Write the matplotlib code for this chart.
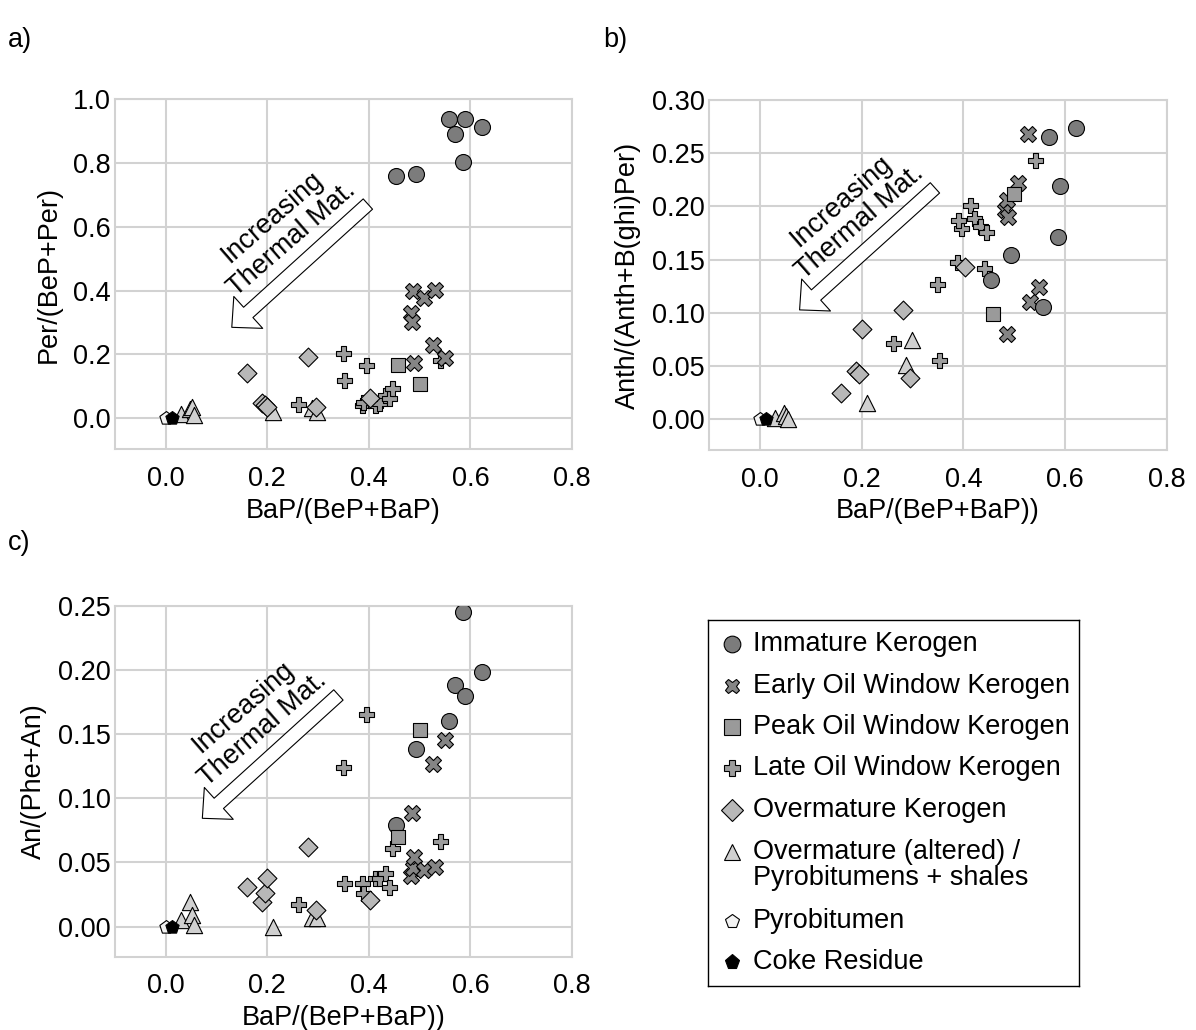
import matplotlib
matplotlib.use("Agg")
import matplotlib.pyplot as plt
from matplotlib.ticker import FormatStrFormatter

plt.rcParams["font.family"] = ["Liberation Sans", "DejaVu Sans"]
FS = 19.5

# ---- data: BaP/(BeP+BaP) on x; the three maturity ratios per group ----
immature_x = [0.454, 0.493, 0.557, 0.569, 0.585, 0.590, 0.622]
immature_per = [0.758, 0.766, 0.936, 0.891, 0.804, 0.937, 0.913]
immature_anth = [0.131, 0.154, 0.105, 0.265, 0.171, 0.219, 0.2735]
immature_an = [0.079, 0.138, 0.160, 0.188, 0.245, 0.180, 0.198]

early_x = [0.482, 0.485, 0.486, 0.488, 0.508, 0.527, 0.530, 0.549]
early_per = [0.331, 0.302, 0.400, 0.174, 0.376, 0.229, 0.402, 0.188]
early_anth = [0.197, 0.206, 0.080, 0.190, 0.222, 0.268, 0.110, 0.124]
early_an = [0.0395, 0.0888, 0.0455, 0.054, 0.044, 0.127, 0.0467, 0.1456]

peak_x = [0.458, 0.500]
peak_per = [0.167, 0.107]
peak_anth = [0.099, 0.212]
peak_an = [0.070, 0.153]

late_x = [0.261, 0.349, 0.351, 0.395, 0.387, 0.389, 0.412, 0.420, 0.432, 0.440, 0.445, 0.541]
late_per = [0.045, 0.205, 0.120, 0.167, 0.042, 0.052, 0.042, 0.049, 0.073, 0.063, 0.094, 0.182]
late_anth = [0.072, 0.127, 0.056, 0.1795, 0.148, 0.187, 0.2014, 0.189, 0.182, 0.142, 0.176, 0.244]
late_an = [0.0174, 0.124, 0.034, 0.1657, 0.034, 0.0265, 0.0377, 0.0377, 0.0416, 0.031, 0.061, 0.067]

over_x = [0.160, 0.189, 0.195, 0.200, 0.281, 0.295, 0.403]
over_per = [0.143, 0.047, 0.042, 0.036, 0.191, 0.036, 0.063]
over_anth = [0.025, 0.045, 0.042, 0.085, 0.103, 0.0385, 0.143]
over_an = [0.031, 0.0195, 0.026, 0.0377, 0.062, 0.013, 0.021]

altered_x = [0.030, 0.047, 0.051, 0.055, 0.211, 0.287, 0.298]
altered_per = [0.012, 0.030, 0.035, 0.010, 0.021, 0.031, 0.021]
altered_anth = [0.001, 0.006, 0.003, 0.000, 0.0156, 0.051, 0.0745]
altered_an = [0.005, 0.0195, 0.009, 0.0013, 0.000, 0.0065, 0.0065]

pyro_x = [0.000]
pyro_per = [0.000]
pyro_anth = [0.000]
pyro_an = [0.000]

coke_x = [0.012]
coke_per = [0.002]
coke_anth = [0.000]
coke_an = [0.000]

labels = ["Immature Kerogen", "Early Oil Window Kerogen", "Peak Oil Window Kerogen",
          "Late Oil Window Kerogen", "Overmature Kerogen",
          "Overmature (altered) /\nPyrobitumens + shales", "Pyrobitumen", "Coke Residue"]

# marker, face colour, marker size (pt)
styles = {
    "late": ("P", "#9c9c9c", 10.8),
    "early": ("X", "#858585", 11.5),
    "immature": ("o", "#7c7c7c", 11.5),
    "peak": ("s", "#9a9a9a", 9.6),
    "altered": ("^", "#d0d0d0", 11.7),
    "over": ("D", "#b8b8b8", 9.6),
    "pyro": ("p", "#f2f2f2", 10.0),
    "coke": ("p", "#000000", 10.0),
}
legend_order = ["immature", "early", "peak", "late", "over", "altered", "pyro", "coke"]
legend_size = {"immature": 12, "early": 10.5, "peak": 11.5, "late": 11.5,
               "over": 11.5, "altered": 11.5, "pyro": 10.5, "coke": 11}

W, H = 1196, 1030
fig = plt.figure(figsize=(W / 100, H / 100), dpi=100)


def px_axes(left, top, right, bottom):
    return fig.add_axes([left / W, 1 - bottom / H, (right - left) / W, (bottom - top) / H])


GRID = "#d2d2d2"


def style_axes(ax, ylim, yticks, yfmt, xlabel, ylabel, ylabelpad):
    ax.set_xlim(-0.1, 0.8)
    ax.set_ylim(*ylim)
    ax.set_xticks([0.0, 0.2, 0.4, 0.6, 0.8])
    ax.set_yticks(yticks)
    ax.xaxis.set_major_formatter(FormatStrFormatter("%.1f"))
    ax.yaxis.set_major_formatter(FormatStrFormatter(yfmt))
    ax.grid(True, color=GRID, linewidth=1.5)
    ax.set_axisbelow(True)
    for s in ax.spines.values():
        s.set_color(GRID)
        s.set_linewidth(1.5)
    ax.tick_params(length=0, labelsize=FS)
    ax.tick_params(axis="x", pad=12)
    ax.tick_params(axis="y", pad=3)
    ax.set_xlabel(xlabel, fontsize=FS, labelpad=4)
    ax.set_ylabel(ylabel, fontsize=FS, labelpad=ylabelpad)


def draw_points(ax, series):
    for key in ["late", "early", "immature", "peak", "altered", "over", "pyro", "coke"]:
        xs, ys = series[key]
        m, c, ms = styles[key]
        ax.scatter(xs, ys, marker=m, s=ms ** 2, facecolor=c, edgecolor="black",
                   linewidth=0.8, zorder=3)


def draw_arrow(ax, tail, tip, text_xy):
    ax.annotate("", xy=tip, xytext=tail,
                arrowprops=dict(arrowstyle="simple,head_length=1.6,head_width=3.1,tail_width=1.0",
                                mutation_scale=10, fc="white", ec="black", lw=0.8,
                                shrinkA=0, shrinkB=0), zorder=4)
    ax.text(text_xy[0], text_xy[1], "Increasing\nThermal Mat.", rotation=41,
            rotation_mode="anchor", ha="center", va="center", multialignment="center",
            fontsize=FS, linespacing=1.15, zorder=4)


# a) Per/(BeP+Per)
ax_a = px_axes(115, 99, 572, 449.3)
style_axes(ax_a, (-0.097, 1.0), [0.0, 0.2, 0.4, 0.6, 0.8, 1.0], "%.1f",
           "BaP/(BeP+BaP)", "Per/(BeP+Per)", 8)
draw_points(ax_a, {
    "immature": (immature_x, immature_per), "early": (early_x, early_per),
    "peak": (peak_x, peak_per), "late": (late_x, late_per), "over": (over_x, over_per),
    "altered": (altered_x, altered_per), "pyro": (pyro_x, pyro_per), "coke": (coke_x, coke_per)})
draw_arrow(ax_a, (0.398, 0.671), (0.130, 0.285), (0.229, 0.596))

# b) Anth/(Anth+B(ghi)Per)
ax_b = px_axes(709, 100, 1167, 450)
style_axes(ax_b, (-0.029, 0.30), [0.0, 0.05, 0.10, 0.15, 0.20, 0.25, 0.30], "%.2f",
           "BaP/(BeP+BaP))", "Anth/(Anth+B(ghi)Per)", 8)
draw_points(ax_b, {
    "immature": (immature_x, immature_anth), "early": (early_x, early_anth),
    "peak": (peak_x, peak_anth), "late": (late_x, late_anth), "over": (over_x, over_anth),
    "altered": (altered_x, altered_anth), "pyro": (pyro_x, pyro_anth), "coke": (coke_x, coke_anth)})
draw_arrow(ax_b, (0.344, 0.2174), (0.078, 0.1027), (0.178, 0.195))

# c) An/(Phe+An)
ax_c = px_axes(115, 605.7, 572, 956.7)
style_axes(ax_c, (-0.0234, 0.25), [0.0, 0.05, 0.10, 0.15, 0.20, 0.25], "%.2f",
           "BaP/(BeP+BaP))", "An/(Phe+An)", 8)
draw_points(ax_c, {
    "immature": (immature_x, immature_an), "early": (early_x, early_an),
    "peak": (peak_x, peak_an), "late": (late_x, late_an), "over": (over_x, over_an),
    "altered": (altered_x, altered_an), "pyro": (pyro_x, pyro_an), "coke": (coke_x, coke_an)})
draw_arrow(ax_c, (0.340, 0.1805), (0.072, 0.0844), (0.1717, 0.1623))

# panel letters
fig.text(8 / W, 1 - 40 / H, "a)", fontsize=FS, va="center", ha="left")
fig.text(603 / W, 1 - 40 / H, "b)", fontsize=FS, va="center", ha="left")
fig.text(8 / W, 1 - 543 / H, "c)", fontsize=FS, va="center", ha="left")

# legend box drawn in its own pixel-scaled axes
lx0, ly0, lx1, ly1 = 708, 620, 1079, 986
lax = px_axes(lx0, ly0, lx1, ly1)
lax.set_xlim(0, lx1 - lx0)
lax.set_ylim(ly1 - ly0, 0)
lax.set_xticks([])
lax.set_yticks([])
for s in lax.spines.values():
    s.set_color("black")
    s.set_linewidth(1.0)
row_y = [24.3, 66, 107.3, 148.3, 190, 231.7, 301, 341.7]
for key, lab, y in zip(legend_order, labels, row_y):
    m, c, _ = styles[key]
    lax.plot([23.5], [y], marker=m, markersize=legend_size[key], markerfacecolor=c,
             markeredgecolor="black", markeredgewidth=0.8, linestyle="none")
    lines = lab.split("\n")
    for i, line in enumerate(lines):
        lax.text(45, y + i * 26.6, line, fontsize=FS, va="center", ha="left")

fig.savefig("out.png", dpi=100)
